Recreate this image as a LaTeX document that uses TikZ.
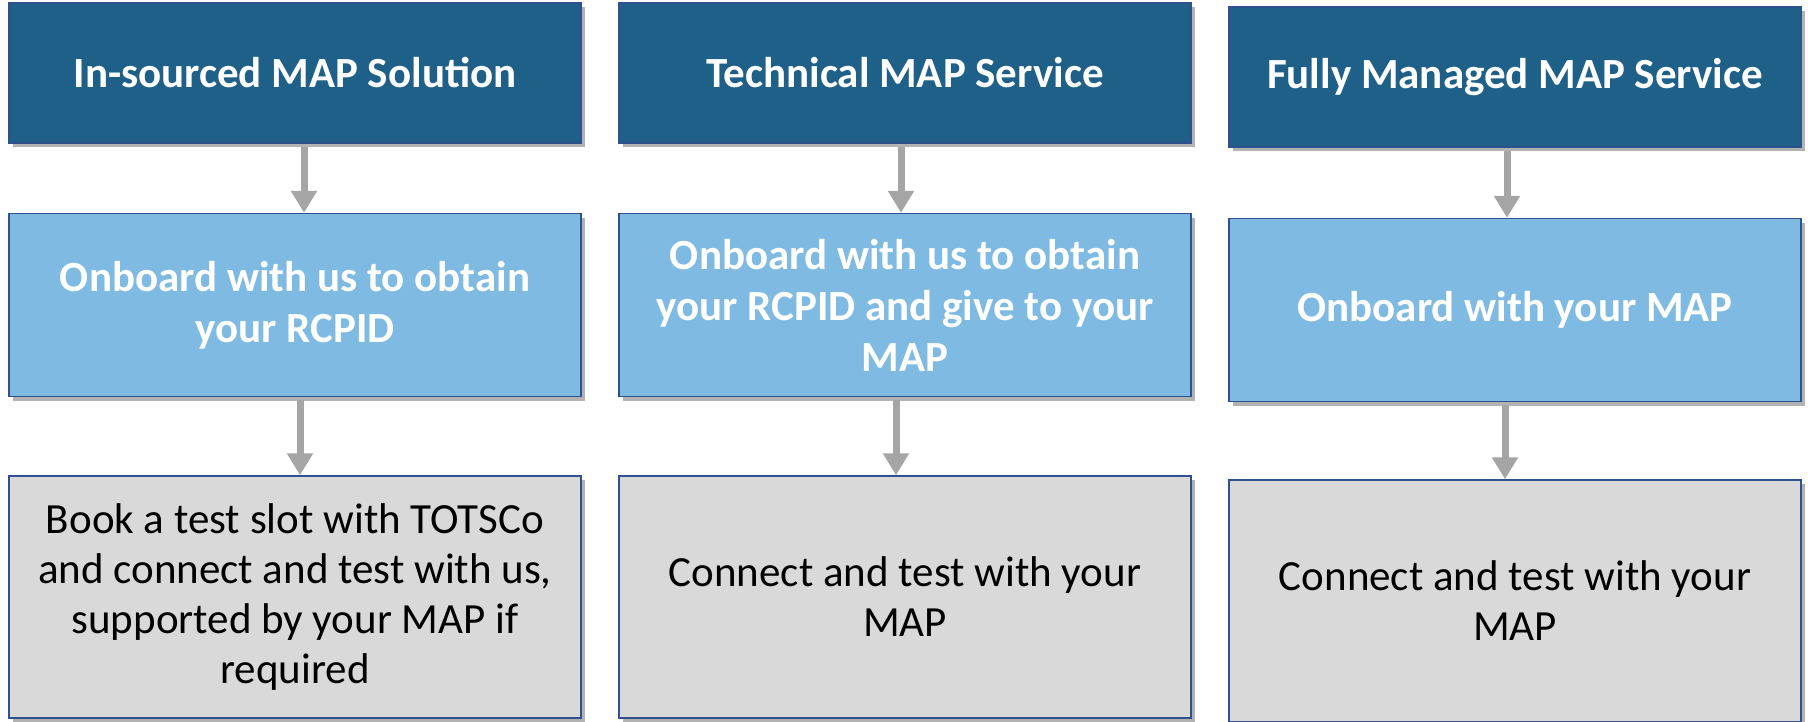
\documentclass[tikz,border=0pt]{standalone}
\usepackage{fontspec}
\setmainfont{Carlito}
\usetikzlibrary{arrows.meta,shadows}

\definecolor{hdrblue}{HTML}{1F6089}
\definecolor{midblue}{HTML}{7FBAE2}
\definecolor{lowgray}{HTML}{D9D9D9}
\definecolor{boxline}{HTML}{2F528F}
\definecolor{arrowgray}{HTML}{A5A5A5}

\tikzset{
  box/.style={draw=boxline, line width=1.5pt, inner sep=0pt, align=center,
    minimum width=572pt,
    drop shadow={shadow xshift=4pt, shadow yshift=-4pt, opacity=0.3, fill=black}},
  hdr/.style={box, fill=hdrblue, text=white, minimum height=140pt,
    font=\bfseries\fontsize{43}{51}\selectfont},
  mid/.style={box, fill=midblue, text=white, minimum height=183pt,
    font=\bfseries\fontsize{43}{51}\selectfont},
  low/.style={box, fill=lowgray, text=black, minimum height=242pt,
    font=\fontsize{43}{50}\selectfont},
  flow/.style={draw=arrowgray, line width=7pt, shorten <=3pt,
    -{Triangle[width=25pt,length=22pt]}}
}

\begin{document}
\begin{tikzpicture}[x=1pt,y=-1pt]
    \useasboundingbox (0,0) rectangle (1808,721);

    % In-sourced column
    \node[hdr] (h1) at (295,73) {In-sourced MAP Solution};
    \node[mid] (m1) at (295,305) {Onboard with us to obtain\\your RCPID};
    \node[low] (l1) at (295,597)
      {Book a test slot with TOTSCo\\and connect and test with us,\\supported by your MAP if\\required};

    % Technical column
    \node[hdr] (h2) at (905,73) {Technical MAP Service};
    \node[mid] (m2) at (905,305) {Onboard with us to obtain\\your RCPID and give to your\\MAP};
    \node[low] (l2) at (905,597) {Connect and test with your\\MAP};

    % Fully managed column
    \node[hdr] (h3) at (1515,77) {Fully Managed MAP Service};
    \node[mid] (m3) at (1515,310) {Onboard with your MAP};
    \node[low] (l3) at (1515,601) {Connect and test with your\\MAP};

    % arrows
    \draw[flow] ([xshift=9pt]h1.south) -- ([xshift=9pt]m1.north);
    \draw[flow] ([xshift=5pt]m1.south) -- ([xshift=5pt]l1.north);
    \draw[flow] ([xshift=-4pt]h2.south) -- ([xshift=-4pt]m2.north);
    \draw[flow] ([xshift=-9pt]m2.south) -- ([xshift=-9pt]l2.north);
    \draw[flow] ([xshift=-8pt]h3.south) -- ([xshift=-8pt]m3.north);
    \draw[flow] ([xshift=-10pt]m3.south) -- ([xshift=-10pt]l3.north);
\end{tikzpicture}
\end{document}
